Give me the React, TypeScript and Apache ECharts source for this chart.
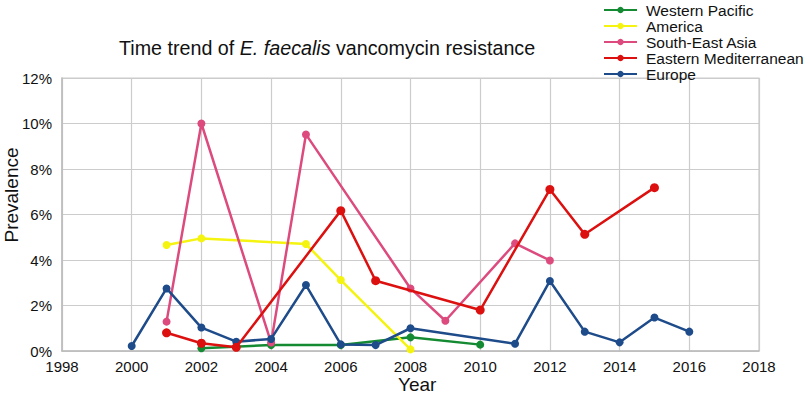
import React, { useEffect, useRef } from "react";
import * as echarts from "echarts";

const seriesNames = ["Western Pacific", "America", "South-East Asia", "Eastern Mediterranean", "Europe"];
const seriesColors = ["#148a32", "#f4f410", "#dc4a7e", "#dd1010", "#1e4b8a"];

const westernPacific: [number, number][] = [[2002, 0.12], [2004, 0.26], [2006, 0.26], [2008, 0.6], [2010, 0.28]];
const america: [number, number][] = [[2001, 4.66], [2002, 4.95], [2005, 4.7], [2006, 3.12], [2008, 0.07]];
const southEastAsia: [number, number][] = [[2001, 1.29], [2002, 10.0], [2004, 0.37], [2005, 9.52], [2008, 2.75], [2009, 1.33], [2011, 4.73], [2012, 3.98]];
const easternMediterranean: [number, number][] = [[2001, 0.8], [2002, 0.34], [2003, 0.16], [2006, 6.17], [2007, 3.09], [2010, 1.8], [2012, 7.1], [2013, 5.13], [2015, 7.18]];
const europe: [number, number][] = [[2000, 0.22], [2001, 2.75], [2002, 1.03], [2003, 0.41], [2004, 0.53], [2005, 2.9], [2006, 0.29], [2007, 0.26], [2008, 1.0], [2011, 0.32], [2012, 3.08], [2013, 0.85], [2014, 0.38], [2015, 1.47], [2016, 0.85]];

const allData = [westernPacific, america, southEastAsia, easternMediterranean, europe];

const FONT = "'Liberation Sans', Arial, sans-serif";

export default function App() {
  const ref = useRef<HTMLDivElement>(null);
  useEffect(() => {
    document.body.style.margin = "0";
    if (!ref.current) return;
    const chart = echarts.init(ref.current, undefined, { renderer: "svg" });
    chart.setOption({
      animation: false,
      backgroundColor: "#ffffff",
      textStyle: { fontFamily: FONT },
      title: {
        text: "{a|Time trend of }{b|E. faecalis}{a| vancomycin resistance}",
        left: 114,
        top: 33,
        textStyle: {
          fontWeight: "normal",
          rich: {
            a: { fontSize: 19.7, color: "#111", fontWeight: "normal", fontFamily: FONT },
            b: { fontSize: 19.7, color: "#111", fontWeight: "normal", fontStyle: "italic", fontFamily: FONT },
          },
        },
      },
      legend: {
        orient: "vertical",
        left: 603,
        top: 2,
        padding: 0,
        itemWidth: 33,
        itemHeight: 8,
        itemGap: 0,
        data: seriesNames,
        textStyle: { fontSize: 15.5, lineHeight: 16, color: "#111", fontFamily: FONT, padding: [0, 0, 0, 4] },
      },
      grid: { left: 62, right: 51, top: 78, bottom: 50, containLabel: false },
      xAxis: {
        type: "value",
        min: 1998,
        max: 2018,
        interval: 2,
        axisLine: { show: true, lineStyle: { color: "#bbbbbb", width: 1.5 } },
        axisTick: { show: false },
        axisLabel: { fontSize: 15, color: "#111", margin: 8, fontFamily: FONT, formatter: (v: number) => String(v) },
        splitLine: { show: true, lineStyle: { color: "#cccccc", width: 1.2 } },
      },
      yAxis: {
        type: "value",
        min: 0,
        max: 12,
        interval: 2,
        axisLine: { show: true, lineStyle: { color: "#bbbbbb", width: 1.5 } },
        axisTick: { show: false },
        axisLabel: { fontSize: 15, color: "#111", margin: 10, formatter: "{value}%", fontFamily: FONT },
        splitLine: { show: true, lineStyle: { color: "#cccccc", width: 1.2 } },
      },
      graphic: [
        {
          type: "text",
          left: 398,
          top: 375,
          style: { text: "Year", fontSize: 19, fill: "#111", fontFamily: FONT },
        },
        {
          type: "text",
          x: 11,
          y: 195,
          rotation: Math.PI / 2,
          style: {
            text: "Prevalence",
            fontSize: 19,
            fill: "#111",
            fontFamily: FONT,
            align: "center",
            verticalAlign: "middle",
          },
        },
        {
          type: "rect",
          shape: { x: 62, y: 78, width: 697, height: 273 },
          style: { fill: "none", stroke: "#cccccc", lineWidth: 1.2 },
          silent: true,
        },
      ],
      series: seriesNames.map((n, i) => ({
        name: n,
        type: "line",
        data: allData[i],
        symbol: "circle",
        symbolSize: i === 3 ? 9 : 8,
        showSymbol: true,
        lineStyle: { color: seriesColors[i], width: 2.5 },
        itemStyle: { color: seriesColors[i] },
        z: i === 3 ? 3 : 2,
      })),
    });
    return () => chart.dispose();
  }, []);
  return <div ref={ref} style={{ width: 810, height: 401 }} />;
}
